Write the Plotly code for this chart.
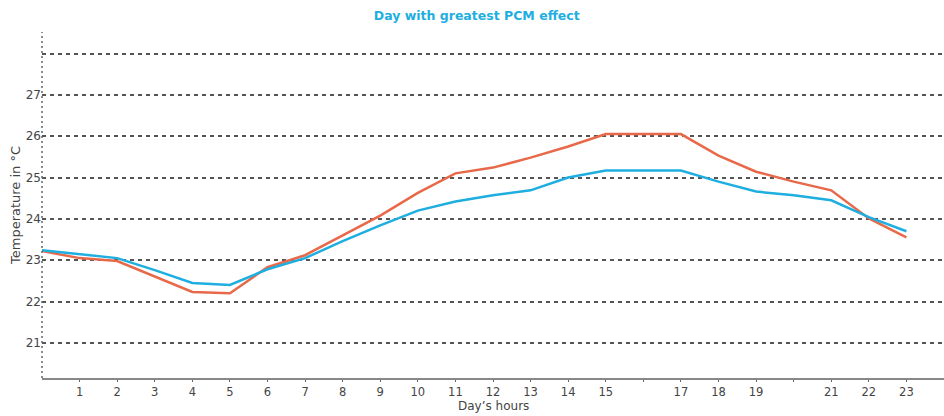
import plotly.graph_objects as go

hours = list(range(0, 24))
blue_series = [23.24, 23.14, 23.05, 22.76, 22.45, 22.40, 22.78, 23.05, 23.46, 23.84,
               24.20, 24.42, 24.57, 24.69, 25.00, 25.17, 25.17, 25.17, 24.90, 24.66,
               24.57, 24.45, 24.04, 23.70]
orange_series = [23.22, 23.05, 22.98, 22.61, 22.23, 22.20, 22.83, 23.12, 23.60, 24.08,
                 24.63, 25.10, 25.24, 25.48, 25.75, 26.05, 26.05, 26.05, 25.53, 25.14,
                 24.90, 24.69, 24.01, 23.55]
x_tick_vals = list(range(1, 24))
x_tick_text = [str(v) if v not in (16, 20) else "" for v in x_tick_vals]
y_tick_vals = [21, 22, 23, 24, 25, 26, 27, 28]
y_tick_text = ["21", "22", "23", "24", "25", "26", "27", ""]

BLUE = "#1eaee0"
ORANGE = "#e8694a"

fig = go.Figure()
fig.add_trace(go.Scatter(x=hours, y=orange_series, mode="lines",
                         line=dict(color=ORANGE, width=2.5), showlegend=False))
fig.add_trace(go.Scatter(x=hours, y=blue_series, mode="lines",
                         line=dict(color=BLUE, width=2.5), showlegend=False))

fig.update_layout(
    width=944, height=416,
    margin=dict(l=42, r=0, t=32, b=38),
    paper_bgcolor="white", plot_bgcolor="white",
    font=dict(family="DejaVu Sans", size=12, color="#444"),
    title=dict(text="<b>Day with greatest PCM effect</b>", x=0.505, xanchor="center",
               y=0.962, yanchor="middle",
               font=dict(family="DejaVu Sans", size=12.5, color=BLUE)),
    xaxis=dict(range=[0, 24], tickvals=x_tick_vals, ticktext=x_tick_text,
               showgrid=False, zeroline=False, showline=True, linecolor="#888",
               linewidth=2, ticks="outside", ticklen=2, tickcolor="#666",
               tickfont=dict(size=11.5, color="#444")),
    yaxis=dict(range=[20.15, 28.52], tickvals=y_tick_vals, ticktext=y_tick_text,
               showgrid=True, gridcolor="#555", gridwidth=1.5, griddash="4px,4px",
               zeroline=False, showline=False, ticks="",
               tickfont=dict(size=12, color="#444"),
               title=dict(text="Temperature in °C", standoff=2,
                          font=dict(size=13, color="#444"))),
)
fig.add_annotation(text="Day’s hours", xref="paper", yref="paper", x=0.50, y=-0.08,
                   xanchor="center", yanchor="middle", showarrow=False,
                   font=dict(size=12, color="#444"))
fig.add_shape(type="line", xref="paper", yref="paper", x0=0, x1=0, y0=0, y1=1,
              line=dict(color="#666", width=1.5, dash="2px,3px"), layer="above")

fig.write_html("out.html")
